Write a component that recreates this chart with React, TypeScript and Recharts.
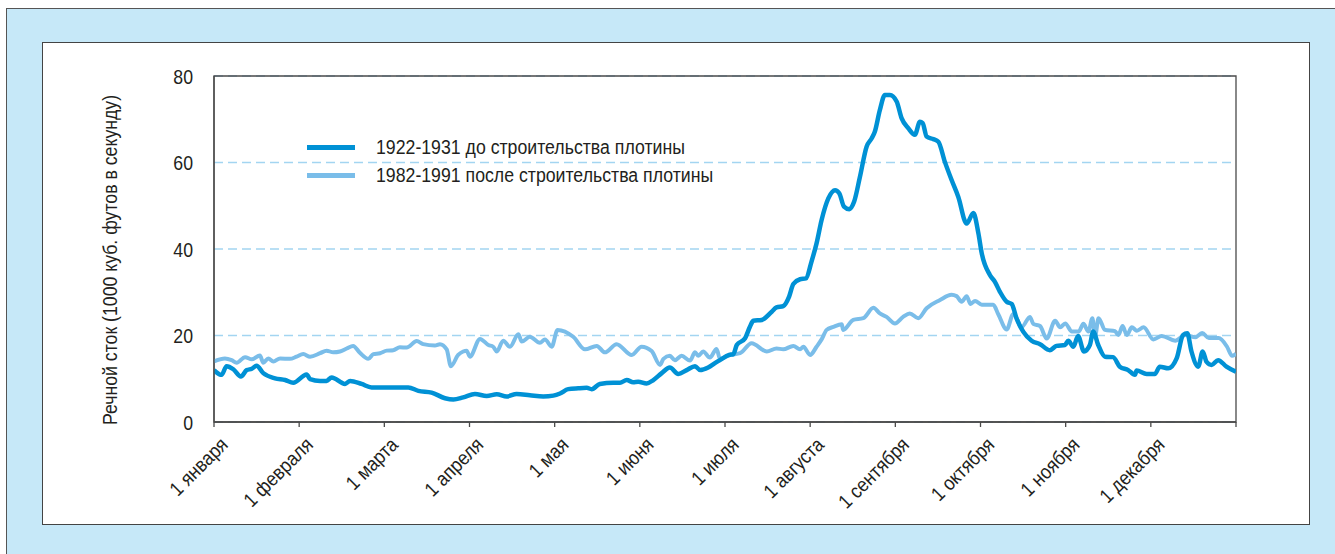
import React from "react";
import {
  LineChart,
  Line,
  XAxis,
  YAxis,
  CartesianGrid,
  ReferenceArea,
  Legend,
} from "recharts";

const MONTH_LABELS = [
  "1 января",
  "1 февраля",
  "1 марта",
  "1 апреля",
  "1 мая",
  "1 июня",
  "1 июля",
  "1 августа",
  "1 сентября",
  "1 октября",
  "1 ноября",
  "1 декабря",
];
const Y_TICKS = [0, 20, 40, 60, 80];
const SERIES_NAMES = [
  "1922-1931 до строительства плотины",
  "1982-1991 после строительства плотины",
];
const Y_LABEL = "Речной сток (1000 куб. футов в секунду)";

// 1922-1931 (before the dam): day of year / flow
const DAYS_BEFORE = [
  0, 2.7, 4.5, 6.9, 9.6, 11.7, 13.5, 15.2, 17.6, 21.8, 25.4, 28.3, 33.1, 34.3,
  37.9, 40.2, 42.0, 46.8, 48.6, 52.7, 56.3, 69.4, 73.0, 77.7, 82.5, 85.5, 89.0,
  93.2, 97.4, 101.0, 104.5, 108.1, 112.8, 117.6, 121.2, 123.6, 126.5, 130.1,
  133.1, 134.9, 137.8, 142.6, 145.0, 147.4, 149.7, 151.5, 154.5, 156.9, 159.9,
  162.8, 165.8, 168.8, 171.8, 173.6, 176.5, 178.9, 180.7, 184.0, 185.5, 186.7,
  189.6, 191.4, 192.6, 195.6, 199.2, 200.9, 203.3, 205.4, 206.9, 209.3, 211.4,
  213.4, 215.2, 217.0, 219.4, 221.8, 223.3, 225.0, 226.9, 228.6, 230.7, 233.1,
  234.9, 236.0, 237.8, 239.6, 241.4, 243.8, 245.6, 248.0, 250.3, 252.1, 253.1,
  254.5, 256.9, 258.7, 261.0, 263.4, 265.8, 268.8, 271.2, 273.0, 274.2, 277.1,
  278.9, 280.7, 283.1, 284.9, 286.6, 289.0, 292.0, 295.0, 298.5, 300.9, 303.9,
  305.1, 306.9, 308.6, 310.7, 312.8, 314.0, 315.8, 318.2, 321.1, 323.5, 326.5,
  328.9, 329.5, 333.1, 336.0, 337.8, 340.8, 343.8, 346.1, 347.6, 349.1, 351.5,
  353.1, 354.5, 356.3, 358.6, 361.6, 365,
];
const FLOW_BEFORE = [
  12.0, 10.9, 12.9, 12.2, 10.5, 12.0, 12.3, 13.0, 11.3, 10.1, 9.7, 9.1, 11.0, 9.9,
  9.5, 9.5, 10.3, 8.8, 9.5, 8.8, 8.0, 8.0, 7.2, 6.8, 5.5, 5.2, 5.7,
  6.5, 6.0, 6.4, 5.9, 6.5, 6.2, 5.9, 6.1, 6.6, 7.6, 7.8,
  7.9, 7.6, 8.8, 9.1, 9.1, 9.7, 9.2, 9.3, 8.9, 9.7, 11.3,
  12.6, 11.1, 12.0, 12.9, 12.0, 12.6, 13.6, 14.3, 15.5, 15.7, 17.8,
  19.3, 22.0, 23.4, 23.6, 25.5, 26.5, 26.8, 29.0, 31.9, 33.0, 33.2,
  37.1, 41.3, 46.7, 51.7, 53.6, 52.9, 49.8, 49.2, 50.9, 56.7, 63.7,
  65.6, 67.1, 72.1, 75.6, 75.6, 74.1, 70.2, 67.9, 66.4, 69.4, 69.1,
  66.0, 65.4, 64.8, 60.2, 56.0, 52.1, 45.9, 48.3, 43.6, 39.0, 34.0,
  32.4, 30.1, 27.8, 27.3, 24.0, 20.9, 18.8, 18.0, 16.6, 17.6, 17.8,
  18.8, 17.4, 19.9, 16.3, 17.8, 20.9, 17.8, 15.1, 15.0, 12.8, 12.0,
  10.9, 11.9, 11.1, 11.1, 12.8, 12.4, 14.7, 20.1, 20.5, 16.3, 12.8,
  16.3, 13.9, 13.2, 14.3, 12.8, 11.6,
];

// 1982-1991 (after the dam): day of year / flow
const DAYS_AFTER = [
  0, 3.9, 6.3, 8.1, 11.1, 13.5, 16.4, 17.6, 19.4, 21.2, 23.6, 27.1, 29.5, 31.9,
  34.3, 37.9, 40.2, 42.6, 45.0, 47.4, 49.7, 52.1, 55.1, 56.9, 59.3, 61.7, 64.0,
  66.4, 68.8, 72.4, 74.7, 78.9, 80.7, 83.1, 84.6, 87.2, 89.0, 90.2, 91.4, 95.0,
  98.0, 99.7, 101.0, 103.3, 105.7, 108.7, 109.9, 112.8, 116.4, 118.2, 120.6,
  122.7, 128.3, 132.5, 136.7, 139.6, 143.8, 149.2, 152.7, 156.3, 159.3, 160.5,
  162.8, 164.6, 167.0, 170.0, 171.8, 173.0, 174.7, 177.1, 179.5, 180.7, 184.3,
  187.9, 192.0, 197.4, 200.9, 203.3, 206.9, 209.3, 210.5, 212.9, 215.2, 217.0,
  218.8, 221.2, 224.2, 224.7, 228.3, 231.9, 235.5, 237.8, 240.2, 243.2, 246.1,
  248.5, 251.5, 254.5, 259.3, 263.4, 265.2, 267.0, 268.8, 270.2, 271.8, 274.2,
  278.3, 280.1, 283.1, 285.5, 288.5, 291.4, 292.6, 295.0, 297.4, 300.4, 302.2,
  304.0, 306.4, 308.8, 310.5, 312.3, 313.7, 314.7, 315.9, 318.2, 321.8, 323.0,
  324.5, 326.0, 327.8, 329.6, 332.0, 335.5, 338.5, 343.3, 346.9, 350.5, 352.9,
  355.3, 358.8, 361.8, 363.6, 365,
];
const FLOW_AFTER = [
  14.0, 14.7, 14.3, 13.7, 15.0, 14.5, 15.4, 13.7, 14.7, 14.0, 14.7, 14.6, 15.1, 15.7,
  15.1, 15.9, 16.5, 16.1, 16.3, 17.0, 17.6, 16.0, 14.6, 15.7, 15.9, 16.5, 16.6,
  17.3, 17.2, 18.7, 18.0, 17.7, 18.0, 16.8, 12.9, 15.5, 16.3, 16.5, 15.1, 19.2,
  17.8, 17.4, 16.3, 18.8, 17.4, 20.3, 18.6, 19.7, 18.3, 19.1, 17.4,
  21.3, 19.7, 16.8, 17.6, 16.1, 18.0, 15.5, 17.4, 16.4, 13.2, 14.6,
  15.3, 14.3, 15.3, 14.2, 16.1, 15.3, 16.3, 14.9, 16.9, 14.6, 15.5,
  15.9, 18.2, 16.3, 17.0, 16.8, 17.6, 16.8, 17.4, 15.5, 17.4, 19.1,
  21.3, 22.0, 22.6, 21.3, 23.6, 24.0, 26.4, 25.1, 24.3, 22.8, 24.3,
  25.1, 24.0, 26.3, 28.2, 29.4, 29.1, 27.8, 29.1, 27.3, 28.0, 27.1,
  27.1, 24.9, 21.4, 25.0, 22.0, 24.3, 22.7, 22.2, 19.3, 23.4, 21.9,
  22.8, 20.9, 20.9, 22.7, 20.9, 24.0, 19.9, 24.0, 21.3, 21.0, 20.1,
  22.2, 20.1, 21.9, 21.1, 21.9, 19.1, 19.9, 18.8, 20.1, 19.6, 20.6,
  19.4, 19.4, 17.4, 15.3, 15.8,
];

const COLOR_BEFORE = "#0091d5";
const COLOR_AFTER = "#7abde9";
const GRID_COLOR = "#a3d5f1";
const AXIS_COLOR = "#4a4a4a";
const TEXT_COLOR = "#231f20";
const FONT = "'Liberation Sans', Arial, sans-serif";
const NARROW = 0.885;

const YEAR_DAYS = 365;
const MONTH_TICKS = Array.from({ length: 13 }, (_, i) => (i * YEAR_DAYS) / 12);

const dataBefore = DAYS_BEFORE.map((d, i) => ({ day: d, flow: FLOW_BEFORE[i] }));
const dataAfter = DAYS_AFTER.map((d, i) => ({ day: d, flow: FLOW_AFTER[i] }));

const XTick = (props: any) => {
  const { x, y, payload } = props;
  const idx = Math.round(payload.value / (YEAR_DAYS / 12));
  const label = MONTH_LABELS[idx] ?? "";
  if (!label) return null;
  const ax = x + 15;
  const ay = y + 17;
  return (
    <g transform={`translate(${ax}, ${ay}) rotate(-45) scale(${NARROW}, 1)`}>
      <text
        x={0}
        y={0}
        textAnchor="end"
        fontSize={20}
        fontFamily={FONT}
        fill={TEXT_COLOR}
      >
        {label}
      </text>
    </g>
  );
};

const YTick = (props: any) => {
  const { x, y, payload } = props;
  return (
    <g transform={`translate(${x}, ${y}) scale(${NARROW}, 1)`}>
      <text
        x={0}
        y={0}
        dy={7.5}
        textAnchor="end"
        fontSize={20}
        fontFamily={FONT}
        fill={TEXT_COLOR}
      >
        {payload.value}
      </text>
    </g>
  );
};

const YLabel = (props: any) => {
  const { viewBox } = props;
  const cx = viewBox.x - 44;
  const cy = viewBox.y + viewBox.height / 2 + 11;
  return (
    <g transform={`translate(${cx}, ${cy}) rotate(-90) scale(${NARROW}, 1)`}>
      <text
        x={0}
        y={0}
        textAnchor="middle"
        dominantBaseline="central"
        fontSize={20}
        fontFamily={FONT}
        fill={TEXT_COLOR}
      >
        {Y_LABEL}
      </text>
    </g>
  );
};

const LegendContent = () => {
  const items = [
    { name: SERIES_NAMES[0], color: COLOR_BEFORE },
    { name: SERIES_NAMES[1], color: COLOR_AFTER },
  ];
  return (
    <div style={{ fontFamily: FONT, fontSize: 20, color: TEXT_COLOR }}>
      {items.map((it) => (
        <div
          key={it.name}
          style={{ display: "flex", alignItems: "center", height: 28 }}
        >
          <span
            style={{
              display: "inline-block",
              width: 48,
              height: 5,
              background: it.color,
              marginRight: 21,
              flex: "none",
            }}
          />
          <span
            style={{
              display: "inline-block",
              whiteSpace: "nowrap",
              transform: `scaleX(${NARROW})`,
              transformOrigin: "left center",
            }}
          >
            {it.name}
          </span>
        </div>
      ))}
    </div>
  );
};

export default function App() {
  return (
    <div
      style={{
        position: "absolute",
        left: 0,
        top: 0,
        width: 1335,
        height: 554,
        overflow: "hidden",
        background: "#ffffff",
      }}
    >
      <div
        style={{
          position: "absolute",
          left: 6,
          top: 8,
          width: 1345,
          height: 560,
          border: "1px solid #555",
          background: "#c6e8f8",
          boxSizing: "border-box",
        }}
      />
      <div
        style={{
          position: "absolute",
          left: 42,
          top: 42,
          width: 1268,
          height: 483,
          border: "1.5px solid #444",
          background: "#ffffff",
          boxSizing: "border-box",
        }}
      />
      <div style={{ position: "absolute", left: 0, top: 0 }}>
        <LineChart
          width={1335}
          height={554}
          margin={{ top: 76, right: 99, bottom: 32, left: 154 }}
        >
          <CartesianGrid
            vertical={false}
            stroke={GRID_COLOR}
            strokeDasharray="9 5"
            strokeWidth={1.3}
          />
          <XAxis
            type="number"
            dataKey="day"
            domain={[0, YEAR_DAYS]}
            ticks={MONTH_TICKS}
            interval={0}
            height={100}
            axisLine={{ stroke: AXIS_COLOR, strokeWidth: 1.3 }}
            tickLine={{ stroke: AXIS_COLOR, strokeWidth: 1.3 }}
            tickSize={5}
            tick={<XTick />}
            allowDataOverflow
          />
          <YAxis
            type="number"
            domain={[0, 80]}
            ticks={Y_TICKS}
            width={60}
            axisLine={{ stroke: AXIS_COLOR, strokeWidth: 1.3 }}
            tickLine={false}
            tickMargin={15}
            tick={<YTick />}
            label={<YLabel />}
          />
          <ReferenceArea
            x1={0}
            x2={YEAR_DAYS}
            y1={0}
            y2={80}
            fill="none"
            stroke={AXIS_COLOR}
            strokeWidth={1.3}
            ifOverflow="visible"
          />
          <Legend
            content={<LegendContent />}
            layout="vertical"
            verticalAlign="middle"
            align="center"
            wrapperStyle={{ left: 307, top: 133, width: 450 }}
          />
          <Line
            data={dataAfter}
            dataKey="flow"
            name={SERIES_NAMES[1]}
            type="monotone"
            stroke={COLOR_AFTER}
            strokeWidth={4}
            dot={false}
            isAnimationActive={false}
          />
          <Line
            data={dataBefore}
            dataKey="flow"
            name={SERIES_NAMES[0]}
            type="monotone"
            stroke={COLOR_BEFORE}
            strokeWidth={4.5}
            dot={false}
            isAnimationActive={false}
          />
        </LineChart>
      </div>
    </div>
  );
}
